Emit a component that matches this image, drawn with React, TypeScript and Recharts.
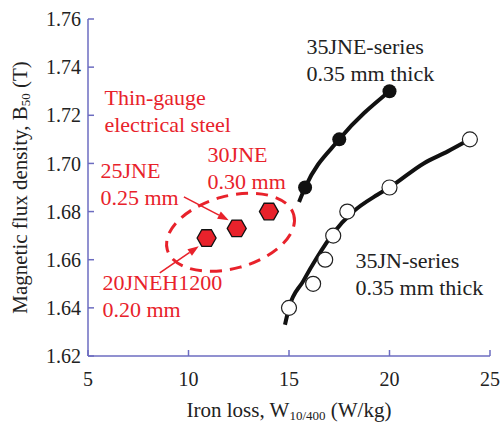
import { ScatterChart, Scatter, XAxis, YAxis, ReferenceDot, ReferenceLine, Label } from "recharts";

document.body.style.margin = "0";

const FONT = "'Liberation Serif', 'Times New Roman', serif";
const AXIS = "#6c6cc0";
const RED = "#e8222b";

const xTicks = [5, 10, 15, 20, 25];
const yTicks = [1.62, 1.64, 1.66, 1.68, 1.7, 1.72, 1.74, 1.76];

// 35JNE-series (filled)
const jneLoss = [15.8, 17.5, 20.0];
const jneB = [1.69, 1.71, 1.73];
const jneFitLoss = [15.5, 15.8, 17.5, 20.0];
const jneFitB = [1.684, 1.69, 1.71, 1.73];

// 35JN-series (open)
const jnLoss = [15.0, 16.2, 16.8, 17.2, 17.9, 20.0, 24.0];
const jnB = [1.64, 1.65, 1.66, 1.67, 1.68, 1.69, 1.71];
const jnFitLoss = [14.8, 15.0, 15.7, 16.4, 17.2, 18.2, 19.4, 20.0, 21.7, 22.9, 24.0];
const jnFitB = [1.633, 1.64, 1.651, 1.661, 1.671, 1.68, 1.687, 1.69, 1.7, 1.705, 1.71];

// thin-gauge grades: 20JNEH1200, 25JNE, 30JNE
const thinLoss = [10.9, 12.4, 14.0];
const thinB = [1.669, 1.673, 1.68];

const zip = (xs: number[], ys: number[]) => xs.map((x, i) => ({ x, y: ys[i] }));

const jneData = zip(jneLoss, jneB);
const jneFit = zip(jneFitLoss, jneFitB);
const jnData = zip(jnLoss, jnB);
const jnFit = zip(jnFitLoss, jnFitB);
const thinData = zip(thinLoss, thinB);

const Hexagon = ({ cx, cy }: any) => {
  const w = 9.5, h = 8.3;
  const pts = [
    [cx - w, cy], [cx - w / 2, cy - h], [cx + w / 2, cy - h],
    [cx + w, cy], [cx + w / 2, cy + h], [cx - w / 2, cy + h],
  ].map((p) => p.join(",")).join(" ");
  return <polygon points={pts} fill={RED} stroke="#111" strokeWidth={1.3} />;
};

const FilledDot = ({ cx, cy }: any) => <circle cx={cx} cy={cy} r={7} fill="#111" />;
const OpenDot = ({ cx, cy }: any) => <circle cx={cx} cy={cy} r={7.5} fill="#fff" stroke="#222" strokeWidth={1.2} />;
const NoDot = () => <g />;

const textBlock = (lines: string[], color: string) => ({ cx, cy }: any) => (
  <text x={cx} y={cy} fill={color} fontSize={22} fontFamily={FONT}>
    {lines.map((l, i) => (
      <tspan key={i} x={cx} dy={i === 0 ? 0 : 27}>{l}</tspan>
    ))}
  </text>
);

const Arrow = ({ x1, y1, x2, y2 }: any) => {
  const a = Math.atan2(y2 - y1, x2 - x1);
  const len = 11, half = 4;
  const bx = x2 - len * Math.cos(a), by = y2 - len * Math.sin(a);
  const p1 = `${bx + half * Math.sin(a)},${by - half * Math.cos(a)}`;
  const p2 = `${bx - half * Math.sin(a)},${by + half * Math.cos(a)}`;
  return (
    <g>
      <line x1={x1} y1={y1} x2={bx} y2={by} stroke={RED} strokeWidth={1.6} />
      <polygon points={`${x2},${y2} ${p1} ${p2}`} fill={RED} />
    </g>
  );
};

const Ellipse = ({ cx, cy }: any) => (
  <ellipse
    cx={cx}
    cy={cy}
    rx={65.6}
    ry={36.2}
    transform={`rotate(-15.4 ${cx} ${cy})`}
    fill="none"
    stroke={RED}
    strokeWidth={3}
    strokeDasharray="12 8"
  />
);

const XTitle = ({ viewBox }: any) => (
  <text x={viewBox.x + viewBox.width / 2} y={viewBox.y + 61} textAnchor="middle" fontSize={21} fontFamily={FONT} fill="#222">
    Iron loss, W<tspan fontSize={13} dy={3}>10/400</tspan><tspan dy={-3}> (W/kg)</tspan>
  </text>
);

const YTitle = ({ viewBox }: any) => {
  const x = 27, y = viewBox.y + viewBox.height / 2;
  return (
    <text x={x} y={y} transform={`rotate(-90 ${x} ${y})`} textAnchor="middle" fontSize={21} fontFamily={FONT} fill="#222">
      Magnetic flux density, B<tspan fontSize={13} dy={3}>50</tspan><tspan dy={-3}> (T)</tspan>
    </text>
  );
};

export default function App() {
  return (
    <div style={{ width: 502, height: 426, background: "#fff" }}>
      <ScatterChart width={502} height={426} margin={{ top: 19, right: 12, bottom: 0, left: 0 }}>
        <XAxis
          dataKey="x"
          type="number"
          domain={[5, 25]}
          ticks={xTicks}
          height={70}
          allowDataOverflow
          axisLine={{ stroke: AXIS, strokeWidth: 1.5 }}
          tickLine={{ stroke: AXIS, strokeWidth: 1.5 }}
          tickSize={-6}
          tickMargin={22}
          tick={{ fill: "#222", fontSize: 20, fontFamily: FONT }}
        >
          <Label content={XTitle} />
        </XAxis>
        <XAxis
          xAxisId="top"
          orientation="top"
          type="number"
          domain={[5, 25]}
          ticks={xTicks}
          height={0}
          axisLine={{ stroke: AXIS, strokeWidth: 1.5 }}
          tickLine={{ stroke: AXIS, strokeWidth: 1.5 }}
          tickSize={-6}
          tickFormatter={() => ""}
        />
        <YAxis
          dataKey="y"
          type="number"
          domain={[1.62, 1.76]}
          ticks={yTicks}
          width={88}
          allowDataOverflow
          axisLine={{ stroke: AXIS, strokeWidth: 1.5 }}
          tickLine={{ stroke: AXIS, strokeWidth: 1.5 }}
          tickSize={-6}
          tickMargin={13}
          tickFormatter={(v: number) => v.toFixed(2)}
          tick={{ fill: "#222", fontSize: 20, fontFamily: FONT }}
        >
          <Label content={YTitle} />
        </YAxis>
        <YAxis
          yAxisId="right"
          orientation="right"
          type="number"
          domain={[1.62, 1.76]}
          ticks={yTicks}
          width={0}
          axisLine={{ stroke: AXIS, strokeWidth: 1.5 }}
          tickLine={{ stroke: AXIS, strokeWidth: 1.5 }}
          tickSize={-6}
          tickFormatter={() => ""}
        />

        <ReferenceDot x={12.09} y={1.6714} r={0} shape={Ellipse} />
        <ReferenceLine segment={[{ x: 9.77, y: 1.6861 }, { x: 12.0, y: 1.6764 }]} shape={Arrow} />
        <ReferenceLine segment={[{ x: 8.57, y: 1.6545 }, { x: 10.51, y: 1.6656 }]} shape={Arrow} />

        <ReferenceDot x={15.87} y={1.7454} r={0} shape={textBlock(["35JNE-series", "0.35 mm thick"], "#222")} />
        <ReferenceDot x={18.31} y={1.6565} r={0} shape={textBlock(["35JN-series", "0.35 mm thick"], "#222")} />
        <ReferenceDot x={5.82} y={1.7242} r={0} shape={textBlock(["Thin-gauge", "electrical steel"], RED)} />
        <ReferenceDot x={5.62} y={1.6939} r={0} shape={textBlock(["25JNE", "0.25 mm"], RED)} />
        <ReferenceDot x={10.95} y={1.7005} r={0} shape={textBlock(["30JNE", "0.30 mm"], RED)} />
        <ReferenceDot x={5.72} y={1.6473} r={0} shape={textBlock(["20JNEH1200", "0.20 mm"], RED)} />

        <Scatter data={jneFit} shape={NoDot} line={{ stroke: "#111", strokeWidth: 4 }} lineJointType="monotoneX" isAnimationActive={false} />
        <Scatter data={jnFit} shape={NoDot} line={{ stroke: "#111", strokeWidth: 4 }} lineJointType="monotoneX" isAnimationActive={false} />
        <Scatter data={jneData} shape={FilledDot} isAnimationActive={false} />
        <Scatter data={jnData} shape={OpenDot} isAnimationActive={false} />
        <Scatter data={thinData} shape={Hexagon} isAnimationActive={false} />
      </ScatterChart>
    </div>
  );
}
